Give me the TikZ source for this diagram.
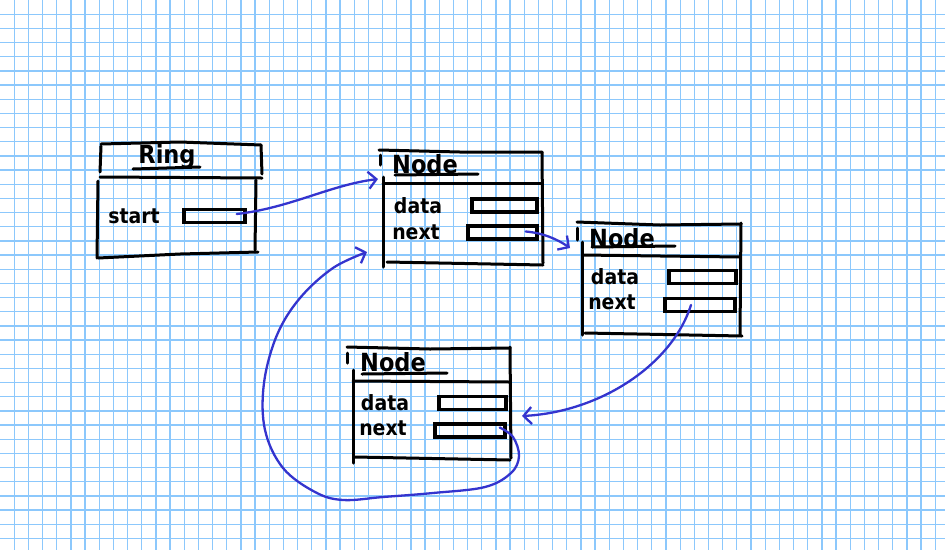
\documentclass[tikz,border=0pt]{standalone}
\usepackage{fontspec}
\setmainfont{DejaVu Sans Condensed}[BoldFont={DejaVu Sans Condensed Bold}]
\usetikzlibrary{arrows.meta}
\definecolor{gridblue}{RGB}{140,200,252}
\definecolor{penblue}{RGB}{52,52,206}
\begin{document}
\begin{tikzpicture}[x=1pt,y=-1pt,
  gridline/.style={gridblue, line width=1.3pt},
  pen/.style={black, line width=3pt, line cap=round, line join=round},
  ptrbox/.style={draw, black, line width=3.4pt, inner sep=0pt,
    minimum width=#1, minimum height=13pt},
  ptr/.style={penblue, line width=2.3pt, line cap=round, line join=round,
    -{Straight Barb[length=8pt, width=17pt, line width=2.3pt]}},
  title/.style={font=\fontsize{25}{25}\selectfont\bfseries, inner sep=0pt},
  field/.style={font=\fontsize{21}{21}\selectfont\bfseries, inner sep=0pt}]

% paper
\fill[white] (0,0) rectangle (945,550);
\useasboundingbox (0,0) rectangle (945,550);
\foreach \i in {1,...,66} \draw[gridline] (\i*14.17,0) -- (\i*14.17,550);
\foreach \j in {1,...,38} \draw[gridline] (0,\j*14.17) -- (945,\j*14.17);

% ---------- Ring ----------
\draw[pen] (101,144) -- (180,142) -- (261,145);
\draw[pen] (101,146) -- (100,172);
\draw[pen] (261,145) -- (262,174);
\draw[pen] (100,177) -- (262,178);
\draw[pen] (98,181) -- (97,258);
\draw[pen] (98,258) -- (180,254) -- (258,252);
\draw[pen] (256,180) -- (255,250);
\node[title] (ringname) at (167,157) {Ring};
\draw[pen] (133,169) -- (200,167);
\node[field] (startlbl) at (134,216) {start};
\node[ptrbox=61pt] (rstart) at (214.5,216) {};

% ---------- first Node ----------
\draw[pen] (379,150) -- (460,152) -- (542,152);
\draw[pen] (380,155) -- (380,165);
\draw[pen] (383,177) -- (383,267);
\draw[pen] (542,152) -- (543,263);
\draw[pen] (383,183) -- (542,183);
\draw[pen] (387,262) -- (543,265);
\node[title] (n1name) at (425,164) {Node};
\draw[pen] (395,175) -- (478,174);
\node[field] (n1datal) at (418,206) {data};
\node[field] (n1nextl) at (416,232) {next};
\node[ptrbox=65pt] (n1data) at (504.5,205.5) {};
\node[ptrbox=69pt] (n1next) at (502.5,232.5) {};

% ---------- second Node ----------
\draw[pen] (577,222) -- (660,225) -- (741,224);
\draw[pen] (577,228) -- (577,240);
\draw[pen] (582,242) -- (582,335);
\draw[pen] (741,223) -- (740,335);
\draw[pen] (582,255) -- (740,257);
\draw[pen] (585,333) -- (742,336);
\node[title] (n2name) at (622,238) {Node};
\draw[pen] (592,247) -- (675,246);
\node[field] (n2datal) at (615,277) {data};
\node[field] (n2nextl) at (612,302) {next};
\node[ptrbox=67pt] (n2data) at (702.5,277) {};
\node[ptrbox=70pt] (n2next) at (700,305) {};

% ---------- third Node ----------
\draw[pen] (347,347) -- (430,349) -- (510,348);
\draw[pen] (347,353) -- (347,363);
\draw[pen] (353,370) -- (353,463);
\draw[pen] (510,347) -- (511,458);
\draw[pen] (353,381) -- (510,382);
\draw[pen] (355,457) -- (510,460);
\node[title] (n3name) at (393,362) {Node};
\draw[pen] (362,374) -- (447,373);
\node[field] (n3datal) at (385,403) {data};
\node[field] (n3nextl) at (383,428) {next};
\node[ptrbox=67pt] (n3data) at (472.5,403) {};
\node[ptrbox=70pt] (n3next) at (470,430.5) {};

% ---------- arrow ends ----------
\coordinate (n1left) at (378,179);
\coordinate (n1low) at (367,252);
\coordinate (n2left) at (570,248);
\coordinate (n3right) at (522,416);
\coordinate (rout) at ([xshift=-10pt,yshift=2pt]rstart.east);
\coordinate (n1out) at ([xshift=-13pt,yshift=1pt]n1next.east);
\coordinate (n2out) at ([xshift=-9pt]n2next.center);
\coordinate (n3out) at ([xshift=-7pt,yshift=3pt]n3next.east);

% ---------- pointers ----------
\draw[ptr] (rout) .. controls (290,208) and (330,185) .. (n1left);
\draw[ptr] (n1out) .. controls (543,233) and (557,239) .. (n2left);
\draw[ptr] (n2out) .. controls (672,365) and (600,412) .. (n3right);
\draw[ptr] plot[smooth, tension=0.6] coordinates {(n3out) (513,437) (519,456)
  (511,473) (485,487) (433,493) (383,497) (343,500) (315,492) (283,468)
  (265,430) (264,383) (277,335) (300,298) (333,268) (n1low)};
\end{tikzpicture}
\end{document}
